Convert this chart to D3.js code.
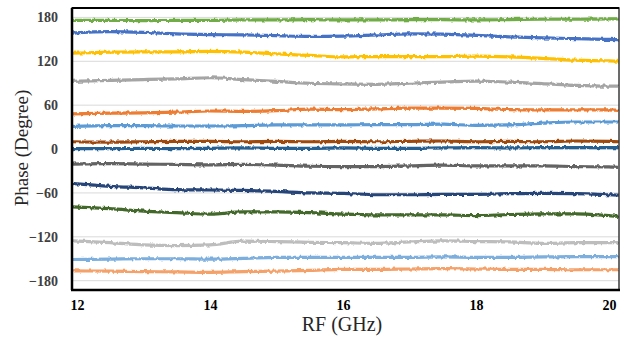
<!DOCTYPE html>
<html>
<head>
<meta charset="utf-8">
<script src="https://cdn.jsdelivr.net/npm/d3@7"></script>
<style>
  body { margin: 0; background: #fff; }
  svg { display: block; }
</style>
</head>
<body>
<div id="chart"></div>
<script>
// sample frequencies (GHz)
var freq = [11.92, 12.5, 13, 13.5, 14, 14.5, 15, 15.5, 16, 16.5, 17, 17.5, 18, 18.5, 19, 19.5, 20, 20.15];

// phase (degree) of each trace
var s1  = [176, 176, 175.5, 176, 176, 176.5, 176.5, 177, 176.5, 176.5, 177, 177, 176.5, 177, 177.5, 177.5, 178, 178];
var s2  = [158.5, 160.5, 159.5, 157.5, 156.5, 156, 155, 154, 154.5, 156, 157.5, 157, 155.5, 153.5, 152, 151, 150, 149.5];
var s3  = [131, 132.5, 133, 133, 133.5, 132.5, 130, 128, 126, 126.5, 126.5, 126.5, 127, 126, 124, 121.5, 120.5, 120];
var s4  = [92.5, 94, 95, 96, 97.5, 95, 92.5, 90, 89, 88.5, 90, 91.5, 93, 91.5, 89.5, 87, 86, 86];
var s5  = [48, 49, 49.5, 50.5, 52, 51.5, 52.5, 54.5, 54, 55, 56, 56, 55.5, 54, 53.5, 53.5, 53.5, 53];
var s6  = [31, 32, 32, 31.5, 31.5, 32, 33, 33, 33, 33.5, 33.5, 34, 32.5, 33, 35.5, 37, 37, 37];
var s7  = [10, 9.5, 10, 10.5, 10.5, 10, 10.5, 10, 10.5, 10, 10.5, 11, 10, 10.5, 10, 11, 10.5, 10];
var s8  = [0.5, 0.5, 1, 0.5, 1, 1.5, 1, 1, 1.5, 1, 1, 1.5, 2, 1.5, 2, 2, 2, 2];
var s9  = [-20.5, -20, -20.5, -21, -21.5, -21, -22, -23.5, -24, -24, -23, -22, -23, -23, -23, -24, -24.5, -25];
var s10 = [-47, -51, -53, -55.5, -56, -56.5, -58, -60, -60.5, -62.5, -62.5, -62, -62, -61, -60.5, -61, -62.5, -63];
var s11 = [-79, -81.5, -85, -87, -89, -86, -86, -87, -89, -90, -90, -90, -91, -89.5, -88.5, -88.5, -91, -92];
var s12 = [-125.5, -128, -131, -132, -131, -126, -126.5, -127.5, -128, -129, -127, -125.5, -126.5, -127, -129, -128, -128, -128];
var s13 = [-151, -150.5, -150, -150, -150.5, -149.5, -148, -148, -148, -148, -148, -147.5, -148, -148, -147.5, -147, -147, -147];
var s14 = [-166.5, -167, -167.5, -168, -168.5, -167.5, -167, -166, -164.5, -164.5, -164, -163.5, -164, -164.5, -164.5, -165, -165, -165];

var series = [s1, s2, s3, s4, s5, s6, s7, s8, s9, s10, s11, s12, s13, s14];
var colors = ["#70AD47", "#4472C4", "#FFC000", "#A5A5A5", "#ED7D31", "#5B9BD5", "#9E480E",
              "#255E91", "#636363", "#264478", "#43682B", "#BDBDBD", "#7CAFDD", "#F4A16A"];

var xTicks = [12, 14, 16, 18, 20];
var yTicks = [-180, -120, -60, 0, 60, 120, 180];

var W = 631, H = 337;
var plot = {left: 72, right: 619, top: 8, bottom: 290};
var serif = "Liberation Serif, Times New Roman, serif";

var svg = d3.select("#chart").append("svg")
    .attr("width", W)
    .attr("height", H);

var x = d3.scaleLinear()
    .domain([12, 20])
    .range([77, 609]);

var y = d3.scaleLinear()
    .domain([-180, 180])
    .range([280.7, 17.4]);

// jagged look of the measured traces
var defs = svg.append("defs");
var filt = defs.append("filter")
    .attr("id", "noisy")
    .attr("filterUnits", "userSpaceOnUse")
    .attr("x", 0).attr("y", 0).attr("width", W).attr("height", H);
filt.append("feTurbulence")
    .attr("type", "fractalNoise")
    .attr("baseFrequency", "0.3 0.15")
    .attr("numOctaves", 2)
    .attr("seed", 3)
    .attr("result", "turb");
filt.append("feDisplacementMap")
    .attr("in", "SourceGraphic")
    .attr("in2", "turb")
    .attr("scale", 3.5)
    .attr("xChannelSelector", "G")
    .attr("yChannelSelector", "R");

defs.append("clipPath").attr("id", "clip")
  .append("rect")
    .attr("x", plot.left).attr("y", plot.top)
    .attr("width", plot.right - plot.left)
    .attr("height", plot.bottom - plot.top);

// gridlines
svg.append("g")
  .selectAll("line")
  .data(yTicks)
  .enter().append("line")
    .attr("x1", plot.left).attr("x2", plot.right)
    .attr("y1", d => y(d)).attr("y2", d => y(d))
    .attr("stroke", "#D9D9D9")
    .attr("stroke-width", 1);

// traces
var line = d3.line()
    .x((d, i) => x(freq[i]))
    .y(d => y(d))
    .curve(d3.curveMonotoneX);

svg.append("g")
    .attr("clip-path", "url(#clip)")
  .append("g")
    .attr("filter", "url(#noisy)")
  .selectAll("path")
  .data(series)
  .enter().append("path")
    .attr("fill", "none")
    .attr("stroke", (d, i) => colors[i])
    .attr("stroke-width", 3.2)
    .attr("d", line);

// plot frame
svg.append("rect")
    .attr("x", plot.left).attr("y", plot.top)
    .attr("width", plot.right - plot.left)
    .attr("height", plot.bottom - plot.top)
    .attr("fill", "none")
    .attr("stroke", "#3a3a3a")
    .attr("stroke-width", 1.5);

svg.append("line")
    .attr("x1", plot.left).attr("x2", plot.left)
    .attr("y1", plot.top).attr("y2", plot.bottom)
    .attr("stroke", "#000").attr("stroke-width", 2.5);
svg.append("line")
    .attr("x1", plot.left - 1).attr("x2", plot.right + 1)
    .attr("y1", plot.bottom).attr("y2", plot.bottom)
    .attr("stroke", "#000").attr("stroke-width", 2.5);
svg.append("line")
    .attr("x1", plot.left).attr("x2", plot.right)
    .attr("y1", plot.top).attr("y2", plot.top)
    .attr("stroke", "#000").attr("stroke-width", 2);

// y axis labels
var yAxis = svg.append("g")
    .attr("transform", "translate(" + (plot.left - 6) + ",0)")
    .call(d3.axisLeft(y).tickValues(yTicks).tickSize(0).tickPadding(8));
yAxis.attr("font-family", serif);
yAxis.select(".domain").remove();
yAxis.selectAll("text")
    .attr("font-size", 14)
    .attr("font-weight", "bold")
    .attr("fill", "#404040");

// x axis labels
var xAxis = svg.append("g")
    .attr("transform", "translate(0," + plot.bottom + ")")
    .call(d3.axisBottom(x).tickValues(xTicks).tickSize(0).tickPadding(10));
xAxis.attr("font-family", serif);
xAxis.select(".domain").remove();
xAxis.selectAll("text")
    .attr("font-size", 14)
    .attr("font-weight", "bold")
    .attr("fill", "#000");

// axis titles
svg.append("text")
    .attr("x", 342).attr("y", 331)
    .attr("text-anchor", "middle")
    .attr("font-family", serif)
    .attr("font-size", 20)
    .attr("fill", "#262626")
    .text("RF (GHz)");

svg.append("text")
    .attr("transform", "translate(28,148) rotate(-90)")
    .attr("text-anchor", "middle")
    .attr("font-family", serif)
    .attr("font-size", 19)
    .attr("fill", "#262626")
    .text("Phase (Degree)");
</script>
</body>
</html>
